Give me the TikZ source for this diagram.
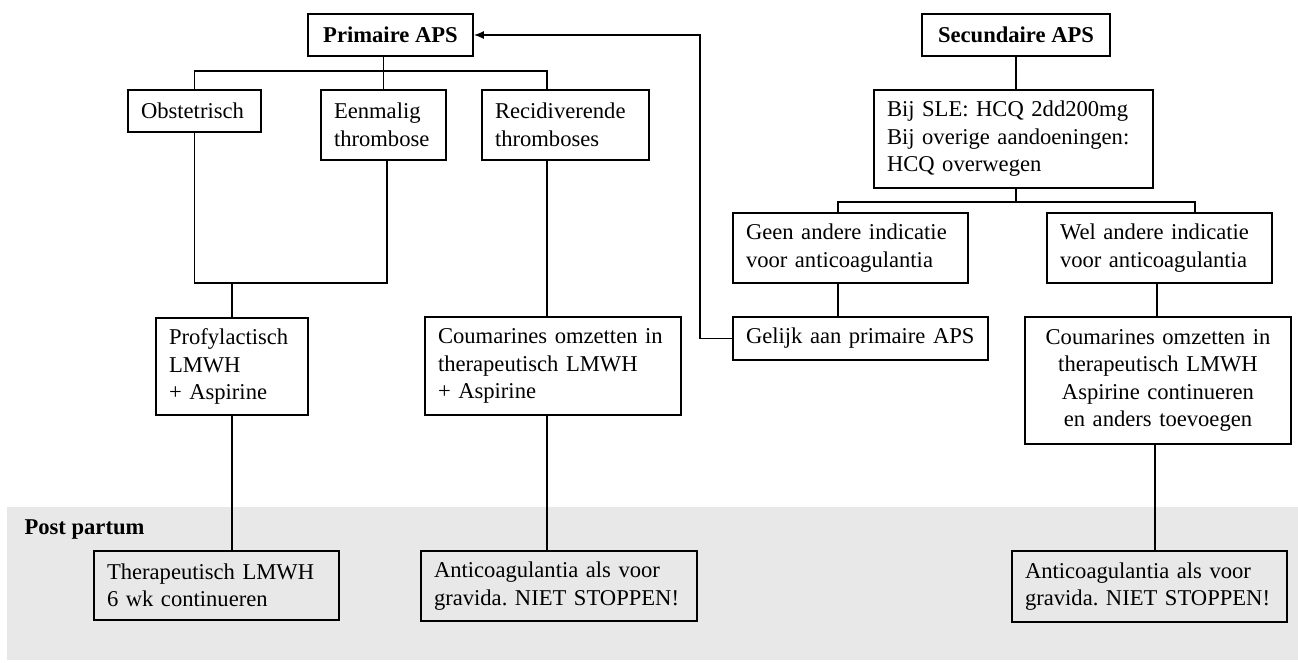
\documentclass[tikz,border=0pt]{standalone}
\usepackage{fontspec}
\setmainfont{Liberation Serif}
\usetikzlibrary{arrows.meta,calc}
\definecolor{bandgray}{RGB}{232,232,232}
\frenchspacing
\begin{document}
\begin{tikzpicture}[x=1pt,y=-1pt,
  every node/.style={font=\fontsize{22.6}{27.5}\selectfont},
  box/.style={draw,line width=1.8pt,inner xsep=13pt,inner ysep=0pt,align=left},
  cbox/.style={draw,line width=1.8pt,inner xsep=6pt,inner ysep=0pt,align=center,font=\fontsize{22.6}{27.5}\selectfont\bfseries},
  conn/.style={line width=1.4pt},
]
\useasboundingbox (0,0) rectangle (1298,662);
\fill[bandgray] (7,507) rectangle (1298,660);
\node[anchor=base west,font=\fontsize{22.6}{27.5}\selectfont\bfseries] (pp) at (21,534) {Post partum};

% top titles
\node[cbox,minimum width=165pt,minimum height=42pt] (prim) at (390.5,35) {Primaire APS};
\node[cbox,minimum width=188pt,minimum height=42pt] (sec) at (1016,35) {Secundaire APS};

% left branch
\node[box,text width=107pt,minimum height=42pt] (obst) at (194.5,111) {\mbox{Obstetrisch}};
\node[box,text width=99pt,minimum height=70pt] (eenm) at (383.5,125) {\mbox{Eenmalig}\\\mbox{thrombose}};
\node[box,text width=141pt,minimum height=70pt] (recid) at (565.5,125) {\mbox{Recidiverende}\\\mbox{thromboses}};
\node[box,text width=126pt,minimum height=97pt] (prof) at (232,366.5) {\mbox{Profylactisch}\\\mbox{LMWH}\\\mbox{+ Aspirine}};
\node[box,text width=230pt,minimum height=98pt] (coum1) at (553,366) {\mbox{Coumarines omzetten in}\\\mbox{therapeutisch LMWH}\\\mbox{+ Aspirine}};

% right branch
\node[box,text width=253pt,minimum height=98pt] (hcq) at (1013.5,139) {\mbox{Bij SLE: HCQ 2dd200mg}\\\mbox{Bij overige aandoeningen:}\\\mbox{HCQ overwegen}};
\node[box,text width=209pt,minimum height=70pt] (geen) at (850.5,248) {\mbox{Geen andere indicatie}\\\mbox{voor anticoagulantia}};
\node[box,text width=199pt,minimum height=70pt] (wel) at (1159.5,248) {\mbox{Wel andere indicatie}\\\mbox{voor anticoagulantia}};
\node[box,text width=229pt,minimum height=43pt] (gelijk) at (860.5,338.5) {\mbox{Gelijk aan primaire APS}};
\node[box,inner xsep=6pt,text width=254pt,minimum height=127pt,align=center] (coum2) at (1158,380.5) {\mbox{Coumarines omzetten in}\\\mbox{therapeutisch LMWH}\\\mbox{Aspirine continueren}\\\mbox{en anders toevoegen}};

% post partum boxes
\node[box,text width=219pt,minimum height=69pt] (ther) at (216.5,585.5) {\mbox{Therapeutisch LMWH}\\\mbox{6 wk continueren}};
\node[box,text width=250pt,minimum height=70pt] (anti1) at (559,586) {\mbox{Anticoagulantia als voor}\\\mbox{gravida. NIET STOPPEN!}};
\node[box,text width=249pt,minimum height=71pt] (anti2) at (1149.5,586.5) {\mbox{Anticoagulantia als voor}\\\mbox{gravida. NIET STOPPEN!}};

% helper coordinates
\coordinate (busL) at (0,71);
\coordinate (xrec) at (547,0);
\coordinate (xeen) at (387,0);
\coordinate (joinL) at (0,283);
\coordinate (busR) at (0,202);
\coordinate (xgeen) at (838,0);
\coordinate (xwel) at (1195,0);
\coordinate (xwel2) at (1157,0);
\coordinate (xcoum2) at (1155,0);
\coordinate (xloop) at (700,0);

% primaire tree
\draw[conn] (prim.south -| eenm) -- (eenm.north);
\draw[conn] (obst.north) |- (busL -| xrec) -- (recid.north -| xrec);
\draw[conn] (obst.south) |- (joinL -| xeen) -- (eenm.south -| xeen);
\draw[conn] (joinL -| prof) -- (prof.north);
\draw[conn] (recid.south -| xrec) -- (coum1.north -| xrec);
\draw[conn] (prof.south) -- (ther.north -| prof);
\draw[conn] (coum1.south -| xrec) -- (anti1.north -| xrec);

% secundaire tree
\draw[conn] (sec.south) -- (hcq.north -| sec);
\draw[conn] (hcq.south -| sec) -- (busR -| sec);
\draw[conn] (geen.north -| xgeen) |- (busR -| xwel) -- (wel.north -| xwel);
\draw[conn] (geen.south -| xgeen) -- (gelijk.north -| xgeen);
\draw[conn] (wel.south -| xwel2) -- (coum2.north -| xwel2);
\draw[conn] (coum2.south -| xcoum2) -- (anti2.north -| xcoum2);

% loop back arrow
\draw[conn,-{Latex[length=10pt,width=8pt]}] (gelijk.west) -- (gelijk.west -| xloop) |- (prim.east);
\end{tikzpicture}
\end{document}
